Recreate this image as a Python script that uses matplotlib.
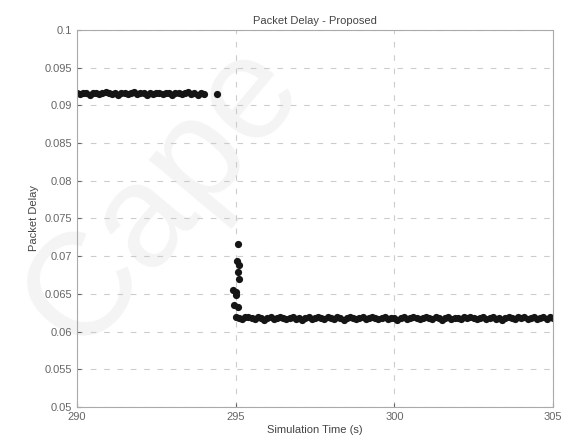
import matplotlib
matplotlib.use('Agg')
from matplotlib import pyplot as plt

# steady phase before handover (s, delay)
t_before = [290.0, 290.1, 290.2, 290.3, 290.4, 290.5, 290.6, 290.7, 290.8, 290.9,
            291.0, 291.1, 291.2, 291.3, 291.4, 291.5, 291.6, 291.7, 291.8, 291.9,
            292.0, 292.1, 292.2, 292.3, 292.4, 292.5, 292.6, 292.7, 292.8, 292.9,
            293.0, 293.1, 293.2, 293.3, 293.4, 293.5, 293.6, 293.7, 293.8, 293.9,
            294.0, 294.4]
d_before = [0.0916, 0.0915, 0.0917, 0.0916, 0.0914, 0.0916, 0.0917, 0.0915, 0.0916, 0.0918,
            0.0916, 0.0915, 0.0917, 0.0914, 0.0916, 0.0917, 0.0915, 0.0916, 0.0918, 0.0915,
            0.0916, 0.0917, 0.0914, 0.0916, 0.0915, 0.0917, 0.0916, 0.0915, 0.0917, 0.0916,
            0.0914, 0.0916, 0.0917, 0.0915, 0.0916, 0.0918, 0.0915, 0.0916, 0.0914, 0.0916,
            0.0915, 0.0915]

# transient right after switching
t_jump = [295.08, 295.05, 295.12, 295.07, 295.10, 294.93, 295.02, 295.02, 294.95, 295.08]
d_jump = [0.0716, 0.0693, 0.0688, 0.0679, 0.0670, 0.0655, 0.0652, 0.0649, 0.0635, 0.0633]

# steady phase after handover
t_after = [295.0, 295.1, 295.2, 295.3, 295.4, 295.5, 295.6, 295.7, 295.8, 295.9,
           296.0, 296.1, 296.2, 296.3, 296.4, 296.5, 296.6, 296.7, 296.8, 296.9,
           297.0, 297.1, 297.2, 297.3, 297.4, 297.5, 297.6, 297.7, 297.8, 297.9,
           298.0, 298.1, 298.2, 298.3, 298.4, 298.5, 298.6, 298.7, 298.8, 298.9,
           299.0, 299.1, 299.2, 299.3, 299.4, 299.5, 299.6, 299.7, 299.8, 299.9,
           300.0, 300.1, 300.2, 300.3, 300.4, 300.5, 300.6, 300.7, 300.8, 300.9,
           301.0, 301.1, 301.2, 301.3, 301.4, 301.5, 301.6, 301.7, 301.8, 301.9,
           302.0, 302.1, 302.2, 302.3, 302.4, 302.5, 302.6, 302.7, 302.8, 302.9,
           303.0, 303.1, 303.2, 303.3, 303.4, 303.5, 303.6, 303.7, 303.8, 303.9,
           304.0, 304.1, 304.2, 304.3, 304.4, 304.5, 304.6, 304.7, 304.8, 304.9, 305.0]
d_after = [0.0619, 0.0618, 0.0617, 0.0619, 0.0620, 0.0618, 0.0617, 0.0619, 0.0618, 0.0616,
           0.0618, 0.0619, 0.0617, 0.0618, 0.0620, 0.0618, 0.0617, 0.0618, 0.0619, 0.0617,
           0.0618, 0.0616, 0.0618, 0.0619, 0.0617, 0.0618, 0.0620, 0.0618, 0.0617, 0.0619,
           0.0618, 0.0617, 0.0619, 0.0618, 0.0616, 0.0618, 0.0619, 0.0618, 0.0617, 0.0618,
           0.0619, 0.0617, 0.0618, 0.0620, 0.0618, 0.0617, 0.0618, 0.0619, 0.0617, 0.0618,
           0.0618, 0.0616, 0.0618, 0.0619, 0.0617, 0.0618, 0.0619, 0.0618, 0.0617, 0.0618,
           0.0620, 0.0618, 0.0617, 0.0619, 0.0618, 0.0616, 0.0618, 0.0619, 0.0617, 0.0618,
           0.0618, 0.0617, 0.0619, 0.0618, 0.0620, 0.0618, 0.0617, 0.0618, 0.0619, 0.0617,
           0.0618, 0.0619, 0.0617, 0.0618, 0.0616, 0.0618, 0.0619, 0.0618, 0.0617, 0.0619,
           0.0618, 0.0620, 0.0617, 0.0618, 0.0619, 0.0617, 0.0618, 0.0620, 0.0617, 0.0619, 0.0618]

x_ticks = [290, 295, 300, 305]
y_ticks = [0.05, 0.055, 0.06, 0.065, 0.07, 0.075, 0.08, 0.085, 0.09, 0.095, 0.1]
y_labels = ['0.05', '0.055', '0.06', '0.065', '0.07', '0.075', '0.08', '0.085', '0.09', '0.095', '0.1']

plt.rcParams['font.family'] = ['Liberation Sans', 'DejaVu Sans']
grey = '#666666'

fig = plt.figure(figsize=(5.66, 4.45), dpi=100)
ax = fig.add_axes([0.136, 0.0854, 0.841, 0.8472])

# faint watermark behind everything
fig.text(0.29, 0.56, 'Cape', fontsize=105, color='#f4f4f4', rotation=50,
         ha='center', va='center', zorder=-5)
ax.patch.set_alpha(0)

for t, d in [(t_before, d_before), (t_jump, d_jump), (t_after, d_after)]:
    ax.plot(t, d, 'o', color='#151515', markersize=5.2, markeredgewidth=0)

ax.set_xlim(290, 305)
ax.set_ylim(0.05, 0.1)
ax.set_xticks(x_ticks)
ax.set_yticks(y_ticks)
ax.set_yticklabels(y_labels)
ax.grid(True, linestyle=(0, (5, 7)), color='#cccccc', linewidth=0.8)
ax.tick_params(labelsize=8, colors=grey, direction='in', length=3)
for s in ax.spines.values():
    s.set_color('#aaaaaa')
    s.set_linewidth(0.8)

ax.set_title('Packet Delay - Proposed', fontsize=8, color='#444444', pad=4)
ax.set_xlabel('Simulation Time (s)', fontsize=8, color='#444444', labelpad=2)
ax.set_ylabel('Packet Delay', fontsize=8, color='#444444', labelpad=4)

fig.savefig('out.png', dpi=100)
